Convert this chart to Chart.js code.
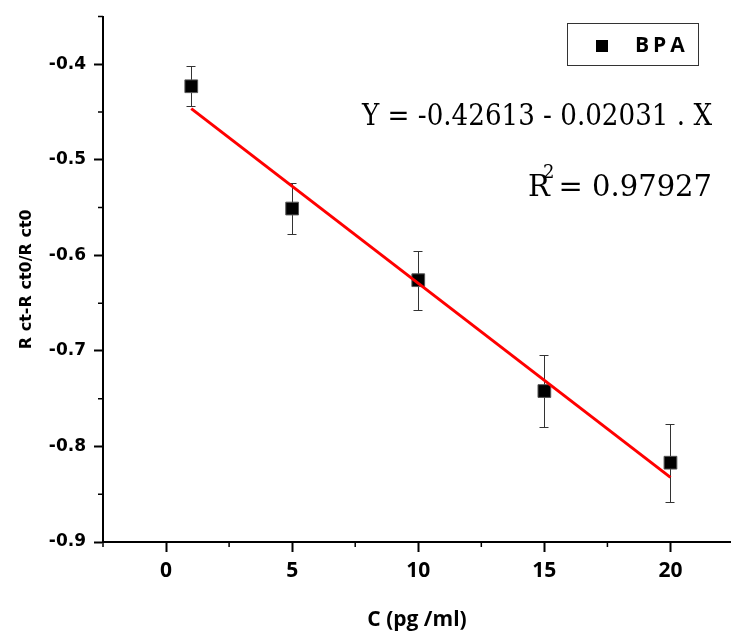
<!DOCTYPE html>
<html>
<head>
<meta charset="utf-8">
<script src="https://cdn.jsdelivr.net/npm/chart.js@4.4.1/dist/chart.umd.min.js"></script>
<style>
  html, body { margin: 0; padding: 0; background: #fff; }
  #chart { display: block; }
</style>
</head>
<body>
<canvas id="chart" width="731" height="639"></canvas>
<script>
// values
const concentration = [1, 5, 10, 15, 20];
const response = [-0.423, -0.551, -0.626, -0.742, -0.817];
const responseError = [0.021, 0.027, 0.031, 0.038, 0.041];
const fitX = [1, 20];
const fitY = [-0.4464, -0.8324];
const seriesLabel = 'BPA';
const equationText = 'Y = -0.42613 - 0.02031 . X';
const r2Text = '= 0.97927';
const xMajorTicks = [0, 5, 10, 15, 20];
const yMajorTicks = [-0.9, -0.8, -0.7, -0.6, -0.5, -0.4];

const near = (v, list) => list.some(m => Math.abs(m - v) < 1e-6);
const isMinor = (v, step) => Math.abs(v / step - Math.round(v / step)) < 1e-6;

// error bars under the markers
const errorBars = {
    id: 'errorBars',
    beforeDatasetsDraw(chart) {
        const { ctx, scales: { x, y } } = chart;
        ctx.save();
        ctx.strokeStyle = '#333';
        ctx.lineWidth = 1;
        concentration.forEach((c, i) => {
            const px = Math.round(x.getPixelForValue(c)) + 0.5;
            const top = Math.round(y.getPixelForValue(response[i] + responseError[i])) + 0.5;
            const bot = Math.round(y.getPixelForValue(response[i] - responseError[i])) + 0.5;
            ctx.beginPath();
            ctx.moveTo(px, top); ctx.lineTo(px, bot);
            ctx.moveTo(px - 5, top); ctx.lineTo(px + 4, top);
            ctx.moveTo(px - 5, bot); ctx.lineTo(px + 4, bot);
            ctx.stroke();
        });
        ctx.restore();
    }
};

// short minor ticks, the long major ones come from the scales
const minorTicks = {
    id: 'minorTicks',
    afterDraw(chart) {
        const { ctx, chartArea, scales: { x, y } } = chart;
        ctx.save();
        ctx.strokeStyle = '#000';
        ctx.lineWidth = 1.5;
        ctx.beginPath();
        x.ticks.forEach(t => {
            if (near(t.value, xMajorTicks) || !isMinor(t.value, 2.5)) return;
            const px = x.getPixelForValue(t.value);
            ctx.moveTo(px, chartArea.bottom); ctx.lineTo(px, chartArea.bottom + 5);
        });
        y.ticks.forEach(t => {
            if (near(t.value, yMajorTicks)) return;
            const py = y.getPixelForValue(t.value);
            ctx.moveTo(chartArea.left, py); ctx.lineTo(chartArea.left - 5, py);
        });
        ctx.stroke();
        ctx.restore();
    }
};

// framed legend and fit equation
const notes = {
    id: 'notes',
    afterDraw(chart) {
        const { ctx, chartArea } = chart;
        const ds = chart.data.datasets[0];
        ctx.save();

        const boxL = chartArea.right - 164, boxT = 23;
        ctx.strokeStyle = '#333';
        ctx.lineWidth = 1;
        ctx.strokeRect(boxL + 0.5, boxT + 0.5, 131, 42);
        ctx.fillStyle = '#000';
        ctx.fillRect(boxL + 29, boxT + 17, 12, 12);
        ctx.font = 'bold 21px "Open Sans"';
        ctx.letterSpacing = '4px';
        ctx.textBaseline = 'middle';
        ctx.fillText(ds.label, boxL + 68, boxT + 23);
        ctx.letterSpacing = '0px';

        ctx.font = '29px "DejaVu Serif"';
        ctx.textBaseline = 'alphabetic';
        ctx.textAlign = 'right';
        const right = chartArea.right - 19;
        ctx.fillText(equationText, right, 125, 350);
        ctx.fillText(r2Text, right, 196);
        ctx.textAlign = 'left';
        ctx.fillText('R', right - 184, 196);
        ctx.font = '18px "DejaVu Serif"';
        ctx.fillText('2', right - 169, 178);
        ctx.restore();
    }
};

new Chart(document.getElementById('chart'), {
    type: 'scatter',
    data: {
        datasets: [
            {
                label: seriesLabel,
                data: concentration.map((c, i) => ({ x: c, y: response[i] })),
                pointStyle: 'rect',
                pointRadius: 9,
                backgroundColor: '#000',
                borderColor: '#555',
                borderWidth: 1,
                order: 1
            },
            {
                label: 'fit',
                type: 'line',
                data: fitX.map((c, i) => ({ x: c, y: fitY[i] })),
                borderColor: '#ff0000',
                borderWidth: 3,
                pointRadius: 0,
                fill: false,
                order: 0
            }
        ]
    },
    options: {
        responsive: false,
        animation: false,
        devicePixelRatio: 1,
        layout: { autoPadding: false, padding: { top: 15, right: 0, left: 0, bottom: 0 } },
        plugins: { legend: { display: false }, tooltip: { enabled: false } },
        scales: {
            x: {
                min: -2.5,
                max: 22.4,
                afterFit: s => { s.height = 97; },
                ticks: {
                    stepSize: 2.5,
                    includeBounds: false,
                    autoSkip: false,
                    maxRotation: 0,
                    padding: 6,
                    color: '#000',
                    font: { family: '"Open Sans"', weight: 'bold', size: 21 },
                    callback: v => near(v, xMajorTicks) ? String(Math.round(v)) : ''
                },
                grid: {
                    drawOnChartArea: false,
                    tickLength: 10,
                    tickWidth: 2,
                    tickColor: c => c.tick && near(c.tick.value, xMajorTicks) ? '#000' : 'rgba(0,0,0,0)'
                },
                border: { color: '#000', width: 2 },
                title: {
                    display: true,
                    text: 'C (pg /ml)',
                    color: '#000',
                    font: { family: '"Open Sans"', weight: 'bold', size: 21 },
                    padding: { top: 0, bottom: 6 }
                }
            },
            y: {
                min: -0.9,
                max: -0.35,
                afterFit: s => { s.width = 103; },
                ticks: {
                    stepSize: 0.05,
                    autoSkip: false,
                    padding: 8,
                    color: '#000',
                    font: { family: '"DejaVu Sans"', weight: 'bold', size: 17, lineHeight: 1 },
                    callback: v => near(v, yMajorTicks) ? v.toFixed(1) : ''
                },
                grid: {
                    drawOnChartArea: false,
                    tickLength: 9,
                    tickWidth: 2,
                    tickColor: c => c.tick && near(c.tick.value, yMajorTicks) ? '#000' : 'rgba(0,0,0,0)'
                },
                border: { color: '#000', width: 2 },
                title: {
                    display: true,
                    text: 'R ct-R ct0/R ct0',
                    color: '#000',
                    font: { family: '"DejaVu Sans"', weight: 'bold', size: 16 },
                    padding: { top: 17, bottom: 0 }
                }
            }
        }
    },
    plugins: [errorBars, minorTicks, notes]
});
</script>
</body>
</html>
